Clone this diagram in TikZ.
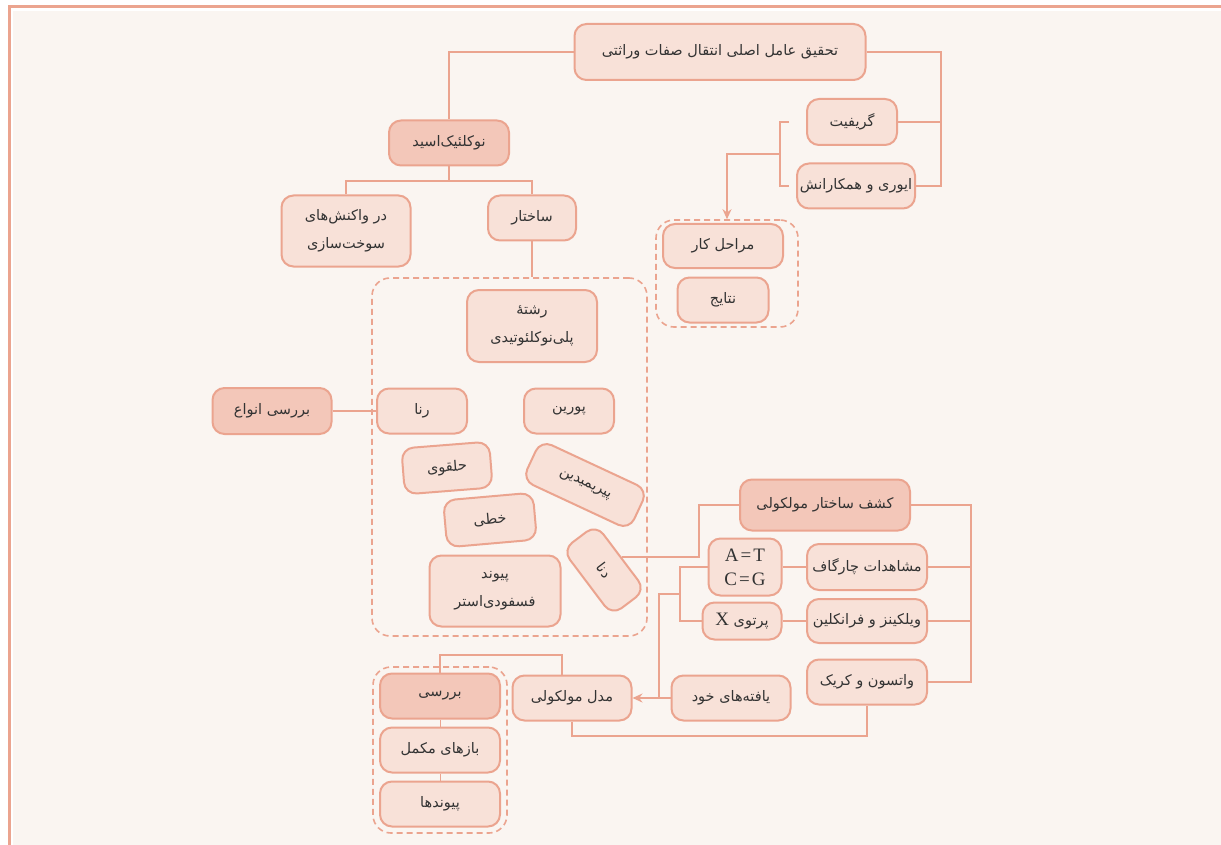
\documentclass[tikz,border=0pt]{standalone}
\usepackage{fontspec}
\setmainfont{Liberation Serif}
\newfontfamily\farsi[Script=Arabic]{DejaVu Sans}
\TeXXeTstate=1
\usetikzlibrary{calc}
\usetikzlibrary{positioning}
\usetikzlibrary{arrows.meta}

\definecolor{mapline}{HTML}{EBA48F}
\definecolor{mapfill}{HTML}{F8E1D8}
\definecolor{mapdark}{HTML}{F3C7B9}
\definecolor{mapback}{HTML}{FAF5F1}
\definecolor{maptext}{HTML}{333333}

\newcommand{\fa}[1]{{\farsi\beginR #1\endR}}

\tikzset{
  concept/.style={draw=mapline, fill=mapfill, line width=2pt, rounded corners=12pt,
    text=maptext, font=\fontsize{14.5}{28}\selectfont, align=center, inner sep=0pt,
    minimum height=45pt},
  conceptdark/.style={concept, fill=mapdark},
  latin/.style={font=\fontsize{19}{24}\selectfont},
  group/.style={draw=mapline, dash pattern=on 6pt off 4pt, line width=1.6pt,
    rounded corners=18pt, inner sep=0pt},
  link/.style={draw=mapline, line width=2pt},
  thinlink/.style={draw=mapline, line width=1pt},
  arrowlink/.style={link, -{Stealth[length=10pt,width=9pt]}},
}

\begin{document}
\begin{tikzpicture}[x=1pt, y=-1pt]
  % page and frame
  \fill [white] (0,0) rectangle (1221,845);
  \fill [mapback] (13,11) rectangle (1221,845);
  \useasboundingbox (0,0) rectangle (1221,845);
  \draw [mapline, line width=3pt] (9.5,845) -- (9.5,7) -- (1221,7);

  % dashed groups
  \node [group, minimum width=142pt, minimum height=107pt] at (727,273.5) (labgroup) {};
  \node [group, minimum width=275pt, minimum height=358pt] at (509.5,457) (structgroup) {};
  \node [group, minimum width=134pt, minimum height=166pt] at (440,750) (reviewgroup) {};

  % top branch
  \node [concept, minimum width=291pt, minimum height=56pt] at (720,52) (research) {\fa{تحقیق عامل اصلی انتقال صفات وراثتی}};
  \node [concept, minimum width=90pt, minimum height=46pt] at (852,122) (griffith) {\fa{گریفیت}};
  \node [concept, minimum width=118pt] at (856,186) (avery) {\fa{ایوری و همکارانش}};
  \node [concept, minimum width=120pt, minimum height=44pt] at (723,246) (steps) {\fa{مراحل کار}};
  \node [concept, minimum width=91pt] at (723,300) (results) {\fa{نتایج}};

  % nucleic acid
  \node [conceptdark, minimum width=120pt] at (449,143) (nucleic) {\fa{نوکلئیک‌اسید}};
  \node [concept, minimum width=129pt, minimum height=71pt] at (346,231) (metab) {\fa{در واکنش‌های}\\\fa{سوخت‌سازی}};
  \node [concept, minimum width=88pt] at (532,218) (struct) {\fa{ساختار}};

  % structure group
  \node [concept, minimum width=130pt, minimum height=72pt] at (532,326) (strand) {\fa{رشتهٔ}\\\fa{پلی‌نوکلئوتیدی}};
  \node [conceptdark, minimum width=119pt, minimum height=46pt] at (272,411) (types) {\fa{بررسی انواع}};
  \node [concept, minimum width=90pt] at (422,411) (rna) {\fa{رنا}};
  \node [concept, minimum width=90pt] at (569,411) (purine) {\fa{پورین}};
  \node [concept, minimum width=88pt, minimum height=46pt, rotate=4.5] at (447,468) (ring) {\fa{حلقوی}};
  \node [concept, minimum width=118pt, minimum height=44pt, rotate=-25] at (585,485) (pyrim) {\fa{پیریمیدین}};
  \node [concept, minimum width=90pt, minimum height=47pt, rotate=5] at (490,520) (linear) {\fa{خطی}};
  \node [concept, minimum width=82pt, minimum height=42pt, rotate=-53] at (604,570) (dna) {\fa{دنا}};
  \node [concept, minimum width=131pt, minimum height=71pt] at (495,591) (phosph) {\fa{پیوند}\\\fa{فسفودی‌استر}};

  % molecular structure
  \node [conceptdark, minimum width=170pt, minimum height=51pt] at (825,505) (discover) {\fa{کشف ساختار مولکولی}};
  \node [concept, latin, minimum width=73pt, minimum height=57pt] at (745,567) (atcg) {A\kern2pt=\kern2pt T\\C\kern2pt=\kern2pt G};
  \node [concept, minimum width=120pt, minimum height=46pt] at (867,567) (chargaff) {\fa{مشاهدات چارگاف}};
  \node [concept, minimum width=79pt, minimum height=37pt] at (742,621) (xray) {\fa{پرتوی {\fontsize{19}{24}\rmfamily X}}};
  \node [concept, minimum width=120pt, minimum height=44pt] at (867,621) (wilkins) {\fa{ویلکینز و فرانکلین}};
  \node [concept, minimum width=120pt] at (867,682) (watson) {\fa{واتسون و کریک}};
  \node [concept, minimum width=119pt] at (731,698) (ownfind) {\fa{یافته‌های خود}};
  \node [concept, minimum width=119pt] at (572,698) (model) {\fa{مدل مولکولی}};

  % review group
  \node [conceptdark, minimum width=120pt] at (440,696) (review) {\fa{بررسی}};
  \node [concept, minimum width=120pt] at (440,750) (bases) {\fa{بازهای مکمل}};
  \node [concept, minimum width=120pt] at (440,804) (bonds) {\fa{پیوندها}};

  % connectors
  \draw [link] (research.west) -| (nucleic.north);
  \draw [link] (research.east) -- ++(74,0) coordinate (rbus) |- (avery.east);
  \draw [link] (griffith.east) -- (griffith.east -| rbus);
  \draw [link] ($(griffith.west)+(-17,0)$) -- ++(-9,0) coordinate (gtick) |- ($(avery.west)+(-7,0)$);
  \draw [arrowlink] ($(gtick)!0.5!(gtick |- avery.west)$) -| (labgroup.north);

  \draw [link] (nucleic.south) -- ++(0,15) coordinate (nbus);
  \draw [link] (metab.north) |- (nbus) -| (struct.north);
  \draw [link] (struct.south) -- (struct.south |- structgroup.north);
  \draw [link] (types.east) -- (rna.west);

  \draw [link] (dna.north) -- ++(77,0) |- (discover.west);
  \draw [link] (discover.east) -- ++(60,0) coordinate (dbus) |- (watson.east);
  \draw [link] (chargaff.east) -- (chargaff.east -| dbus);
  \draw [link] (wilkins.east) -- (wilkins.east -| dbus);
  \draw [link] (chargaff.west) -- (atcg.east);
  \draw [link] (wilkins.west) -- (xray.east);
  \draw [link] (atcg.west) -- ++(-28,0) coordinate (atick) |- (xray.west);
  \draw [arrowlink] (ownfind.west) -- (model.east);
  \draw [link] ($(atick)!0.5!(atick |- xray.west)$) -| ($(model.east)!0.7!(ownfind.west)$);

  \draw [link] (watson.south) -- ++(0,30) -| (model.south);
  \draw [link] ($(model.north)+(-10,0)$) -- ++(0,-20) -| (review.north);
  \draw [thinlink] (review.south) -- (bases.north);
  \draw [thinlink] (bases.south) -- (bonds.north);
\end{tikzpicture}
\end{document}
